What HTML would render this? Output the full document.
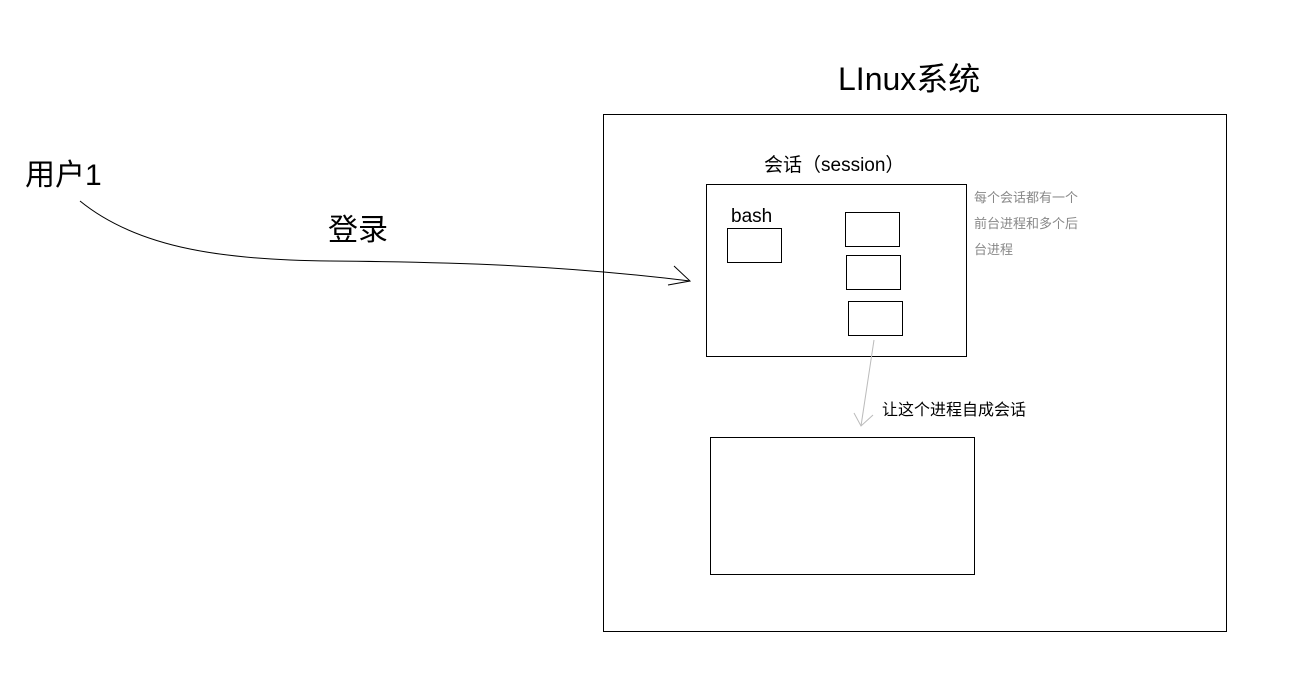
<!DOCTYPE html>
<html><head><meta charset="utf-8"><style>
html,body{margin:0;padding:0;background:#fff;}
svg{display:block;}
text{font-family:"Liberation Sans","Noto Sans CJK SC",sans-serif;}
</style></head><body>
<svg width="1290" height="674" viewBox="0 0 1290 674" xmlns="http://www.w3.org/2000/svg">
<rect x="603.5" y="114.5" width="623" height="517" fill="none" stroke="#000" stroke-width="1"/>
<text x="838" y="90" font-size="32" fill="#000">LInux系统</text>
<text x="25" y="185" font-size="30" fill="#000">用户1</text>
<text x="328" y="240" font-size="30" fill="#000">登录</text>
<path d="M80,201 C140,250 230,260 330,261 C450,262 560,265 690,281" fill="none" stroke="#000" stroke-width="1"/>
<path d="M674,266 L690,281 L668,285" fill="none" stroke="#000" stroke-width="1"/>
<text x="764" y="171" font-size="19" fill="#000">会话（session）</text>
<rect x="706.5" y="184.5" width="260" height="172" fill="none" stroke="#000" stroke-width="1"/>
<text x="731" y="222" font-size="19" fill="#000">bash</text>
<rect x="727.5" y="228.5" width="54" height="34" fill="none" stroke="#000" stroke-width="1"/>
<rect x="845.5" y="212.5" width="54" height="34" fill="none" stroke="#000" stroke-width="1"/>
<rect x="846.5" y="255.5" width="54" height="34" fill="none" stroke="#000" stroke-width="1"/>
<rect x="848.5" y="301.5" width="54" height="34" fill="none" stroke="#000" stroke-width="1"/>
<text x="974" y="202" font-size="13" fill="#888">每个会话都有一个</text>
<text x="974" y="228" font-size="13" fill="#888">前台进程和多个后</text>
<text x="974" y="254" font-size="13" fill="#888">台进程</text>
<path d="M874,340 L861,426" fill="none" stroke="#bbb" stroke-width="1"/>
<path d="M854,413 L861,426 L873,415" fill="none" stroke="#bbb" stroke-width="1"/>
<text x="882" y="415" font-size="16" fill="#000">让这个进程自成会话</text>
<rect x="710.5" y="437.5" width="264" height="137" fill="none" stroke="#000" stroke-width="1"/>
</svg>
</body></html>
